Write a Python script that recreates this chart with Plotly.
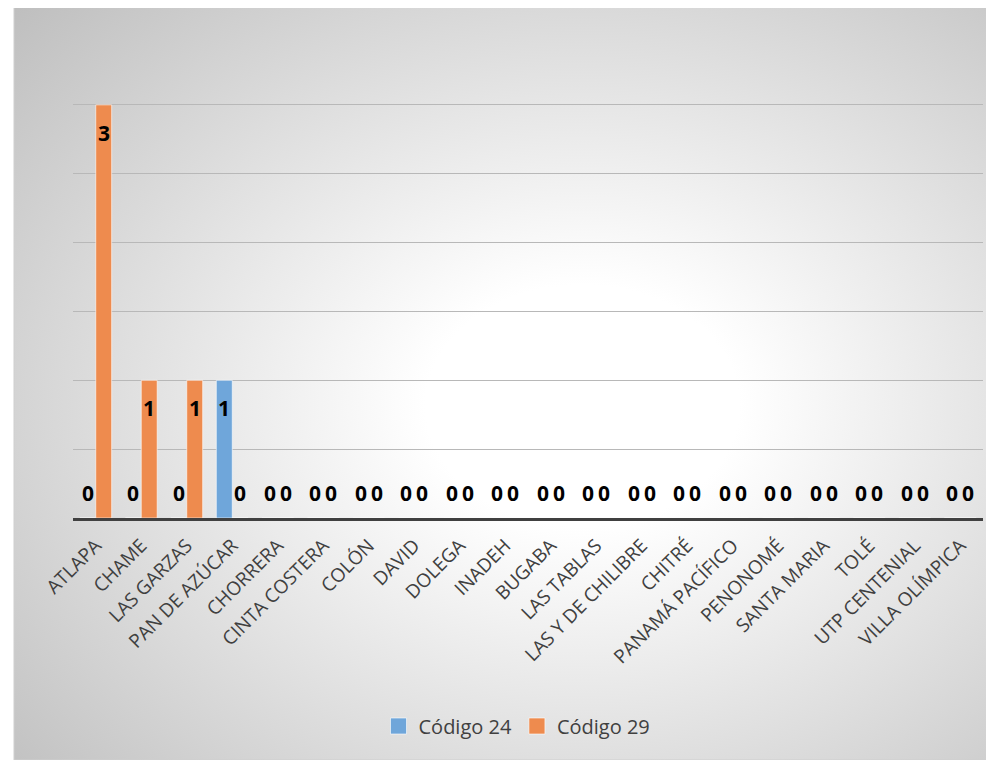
import base64
import plotly.graph_objects as go

categories = ["ATLAPA", "CHAME", "LAS GARZAS", "PAN DE AZÚCAR", "CHORRERA",
              "CINTA COSTERA", "COLÓN", "DAVID", "DOLEGA", "INADEH", "BUGABA",
              "LAS TABLAS", "LAS Y DE CHILIBRE", "CHITRÉ", "PANAMÁ PACÍFICO",
              "PENONOMÉ", "SANTA MARIA", "TOLÉ", "UTP CENTENIAL", "VILLA OLÍMPICA"]
codigo24 = [0, 0, 0, 1, 0, 0, 0, 0, 0, 0, 0, 0, 0, 0, 0, 0, 0, 0, 0, 0]
codigo29 = [3, 1, 1, 0, 0, 0, 0, 0, 0, 0, 0, 0, 0, 0, 0, 0, 0, 0, 0, 0]
series_names = ["Código 24", "Código 29"]
colors = ["#6FA6DA", "#EE8B4E"]

W, H = 994, 760
OFF = 8  # page body margin
ML, MT = 73 - OFF, 36 - OFF
pw, ph = 910, 482
MR = W - ML - pw
MB = H - MT - ph

fig = go.Figure()
for name, vals, col in zip(series_names, (codigo24, codigo29), colors):
    fig.add_trace(go.Bar(x=categories, y=vals, name=name, showlegend=False, legendgroup=name,
                         marker=dict(color=col, line=dict(color="rgba(255,255,255,0.6)", width=1))))
for name, col in zip(series_names, colors):
    fig.add_trace(go.Scatter(x=[None], y=[None], mode="markers", name=name, legendgroup=name,
                             marker=dict(symbol="square", size=16, color=col,
                                         line=dict(color="rgba(255,255,255,0.6)", width=1))))

ann = []
for vals, xs in ((codigo24, -8), (codigo29, 8)):
    for c, v in zip(categories, vals):
        ann.append(dict(x=c, y=v, xref="x", yref="y", text="<b>" + str(v) + "</b>", showarrow=False,
                        xshift=xs, yshift=(-28 if v > 0 else 25),
                        font=dict(family="Open Sans", size=21, color="#000000"),
                        xanchor="center", yanchor="middle"))

svg = ('<svg xmlns="http://www.w3.org/2000/svg" width="980" height="754" preserveAspectRatio="none" viewBox="0 0 980 754">'
       '<defs><radialGradient id="g" cx="0.58" cy="0.53" r="0.8" gradientUnits="objectBoundingBox">'
       '<stop offset="0" stop-color="#ffffff"/><stop offset="0.2" stop-color="#ffffff"/>'
       '<stop offset="1" stop-color="#bdbdbd"/></radialGradient></defs>'
       '<rect x="0" y="0" width="980" height="754" fill="url(#g)"/></svg>')
src = "data:image/svg+xml;base64," + base64.b64encode(svg.encode()).decode()

bx0, by0 = 14 - OFF, 6 - OFF
x0p = (bx0 - ML) / pw
y0p = (MT + ph - by0) / ph
sx = 980 / pw
sy = 754 / ph

fig.update_layout(
    width=W, height=H,
    margin=dict(l=ML, r=MR, t=MT, b=MB, pad=0),
    paper_bgcolor="white", plot_bgcolor="rgba(0,0,0,0)",
    barmode="group", bargap=0.3, bargroupgap=0,
    images=[dict(source=src, xref="paper", yref="paper", x=x0p, y=y0p,
                 sizex=sx, sizey=sy, sizing="stretch", xanchor="left", yanchor="top",
                 layer="below")],
    shapes=[dict(type="rect", xref="paper", yref="paper", x0=x0p, y0=y0p - sy, x1=x0p + sx, y1=y0p,
                 line=dict(color="#cfcfcf", width=1), fillcolor="rgba(0,0,0,0)", layer="below")],
    annotations=ann,
    showlegend=True,
    legend=dict(orientation="h", x=(517 - 73) / pw, xanchor="center",
                y=(MT + ph - (726 - OFF)) / ph, yanchor="middle",
                font=dict(family="Open Sans", size=20, color="#404040"),
                bgcolor="rgba(0,0,0,0)", itemclick=False, itemwidth=30, itemsizing="trace"),
    font=dict(family="Open Sans", color="#404040"),
)
fig.update_xaxes(type="category", tickangle=-45, tickfont=dict(family="Open Sans", size=19, color="#404040"),
                 showline=True, linecolor="#404040", linewidth=3, ticks="", showgrid=False,
                 ticklabelstandoff=6, fixedrange=True)
fig.update_yaxes(range=[0, 3.5], dtick=0.5, showticklabels=False, showgrid=True,
                 gridcolor="#b8b8b8", gridwidth=1, zeroline=False, ticks="", fixedrange=True)

fig.write_html("out.html")
